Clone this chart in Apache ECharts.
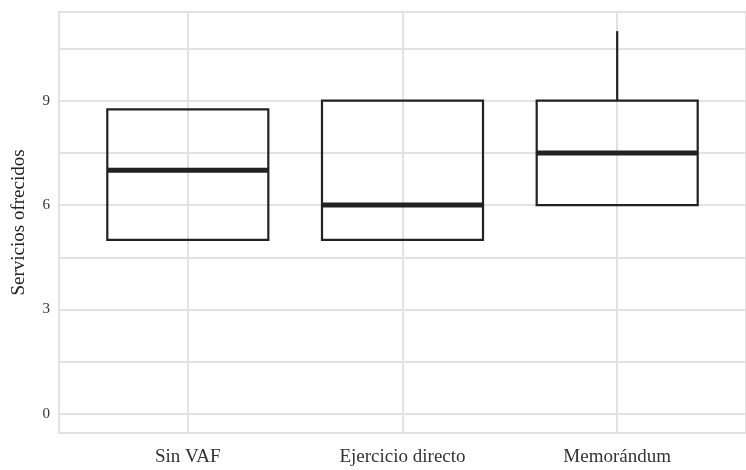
<!DOCTYPE html>
<html>
<head>
<meta charset="utf-8">
<script src="https://cdn.jsdelivr.net/npm/echarts@6/dist/echarts.min.js"></script>
<style>
  html, body { margin: 0; padding: 0; background: #fff; }
  #chart { width: 746px; height: 470px; }
</style>
</head>
<body>
<div id="chart"></div>
<script>
    // categories and box statistics
    var categories = ['Sin VAF', 'Ejercicio directo', 'Memorándum'];
    var lowerWhisker = [5, 5, 6];
    var q1 = [5, 5, 6];
    var median = [7, 6, 7.5];
    var q3 = [8.75, 9, 9];
    var upperWhisker = [8.75, 9, 11];

    var yTicks = [0, 3, 6, 9];
    var yMinor = [1.5, 4.5, 7.5, 10.5];
    var xPositions = [1, 2, 3];

    var myChart = echarts.init(document.getElementById('chart'));

    var boxData = categories.map(function (c, i) {
        return [xPositions[i], lowerWhisker[i], q1[i], median[i], q3[i], upperWhisker[i]];
    });

    var gridLine = { color: '#e2e2e2', width: 2, type: 'solid' };
    var markData = [];
    yTicks.concat(yMinor).forEach(function (v) {
        markData.push({ yAxis: v });
    });
    xPositions.forEach(function (v) {
        markData.push({ xAxis: v });
    });

    function renderBox(params, api) {
        var x = api.value(0);
        var half = api.size([0.75, 0])[0] / 2;
        var lo = api.coord([x, api.value(1)]);
        var b1 = api.coord([x, api.value(2)]);
        var md = api.coord([x, api.value(3)]);
        var b3 = api.coord([x, api.value(4)]);
        var hi = api.coord([x, api.value(5)]);
        var stroke = { stroke: '#222', lineWidth: 2.2, fill: null };
        return {
            type: 'group',
            children: [
                { type: 'line', shape: { x1: hi[0], y1: hi[1], x2: b3[0], y2: b3[1] }, style: stroke },
                { type: 'line', shape: { x1: lo[0], y1: lo[1], x2: b1[0], y2: b1[1] }, style: stroke },
                { type: 'rect', shape: { x: b3[0] - half, y: b3[1], width: half * 2, height: b1[1] - b3[1] }, style: stroke },
                { type: 'line', shape: { x1: md[0] - half, y1: md[1], x2: md[0] + half, y2: md[1] },
                  style: { stroke: '#222', lineWidth: 5 } }
            ]
        };
    }

    var option = {
        animation: false,
        grid: {
            left: 59,
            top: 12,
            width: 692,
            height: 421,
            show: true,
            borderColor: '#e2e2e2',
            borderWidth: 2,
            backgroundColor: '#fff'
        },
        xAxis: {
            type: 'value',
            min: 0.4,
            max: 3.6,
            axisLine: { show: false },
            axisTick: { show: false, customValues: xPositions },
            splitLine: { show: false },
            axisLabel: {
                customValues: xPositions,
                formatter: function (v) { return categories[Math.round(v) - 1] || ''; },
                fontFamily: 'Liberation Serif',
                fontSize: 19,
                color: '#333',
                margin: 15
            }
        },
        yAxis: {
            type: 'value',
            min: -0.55,
            max: 11.55,
            name: 'Servicios ofrecidos',
            nameLocation: 'middle',
            nameGap: 30,
            nameTextStyle: { fontFamily: 'Liberation Serif', fontSize: 19, color: '#222' },
            axisLine: { show: false },
            axisTick: { show: false, customValues: yTicks },
            splitLine: { show: false },
            axisLabel: {
                customValues: yTicks,
                fontFamily: 'Liberation Serif',
                fontSize: 15,
                color: '#333',
                margin: 9
            }
        },
        series: [
            {
                type: 'line',
                data: [],
                z: 1,
                silent: true,
                markLine: {
                    silent: true,
                    symbol: 'none',
                    label: { show: false },
                    lineStyle: gridLine,
                    data: markData
                }
            },
            {
                type: 'custom',
                z: 10,
                renderItem: renderBox,
                data: boxData
            }
        ]
    };
    myChart.setOption(option, true);
</script>
</body>
</html>
